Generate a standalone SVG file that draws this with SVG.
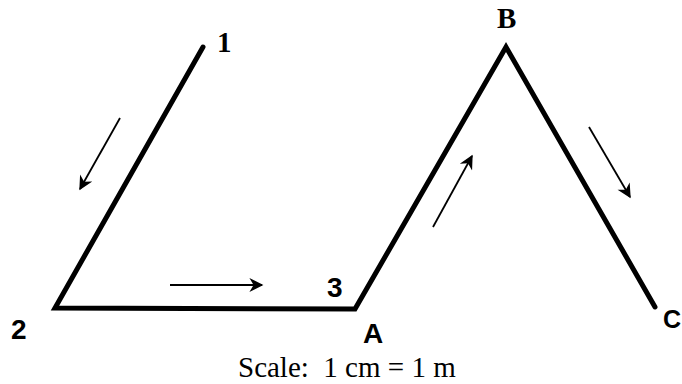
<svg xmlns="http://www.w3.org/2000/svg" width="682" height="384" viewBox="0 0 682 384">
<defs>
<marker id="ah" viewBox="0 0 10 10" refX="9" refY="5" markerWidth="18" markerHeight="14" markerUnits="userSpaceOnUse" orient="auto">
<path d="M0,0 L10,5 L0,10 L3,5 Z" fill="#000"/>
</marker>
</defs>
<style>
.path{fill:none;stroke:#000;stroke-width:5;stroke-linejoin:miter;stroke-linecap:round}
.arr{stroke:#000;stroke-width:1.8;fill:none;marker-end:url(#ah)}
.lbl{font-family:"Liberation Sans",Arial,sans-serif;font-size:28px;font-weight:bold;fill:#000}
.lbls{font-family:"Liberation Serif","Times New Roman",serif;font-size:29px;fill:#000;font-weight:bold}
.cap{font-family:"Liberation Serif","Times New Roman",serif;font-size:29px;fill:#000}
</style>
<g id="path">
<polyline class="path" points="203,47 55,308 355,309 506,47 655,307"/>
</g>
<g id="connectors">
<line class="arr" x1="120" y1="118" x2="80" y2="189"/>
<line class="arr" x1="170" y1="285" x2="262" y2="285"/>
<line class="arr" x1="433" y1="227" x2="472" y2="156"/>
<line class="arr" x1="589" y1="127" x2="630" y2="197"/>
</g>
<g id="labels">
<text class="lbls" x="217" y="52">1</text>
<text class="lbl" x="11" y="339">2</text>
<text class="lbl" x="327" y="297">3</text>
<text class="lbl" x="363" y="343">A</text>
<text class="lbls" x="497" y="28">B</text>
<text class="lbl" x="663" y="328" style="font-size:25px">C</text>
<text class="cap" x="238" y="377" xml:space="preserve">Scale:  1 cm = 1 m</text>
</g>
</svg>
